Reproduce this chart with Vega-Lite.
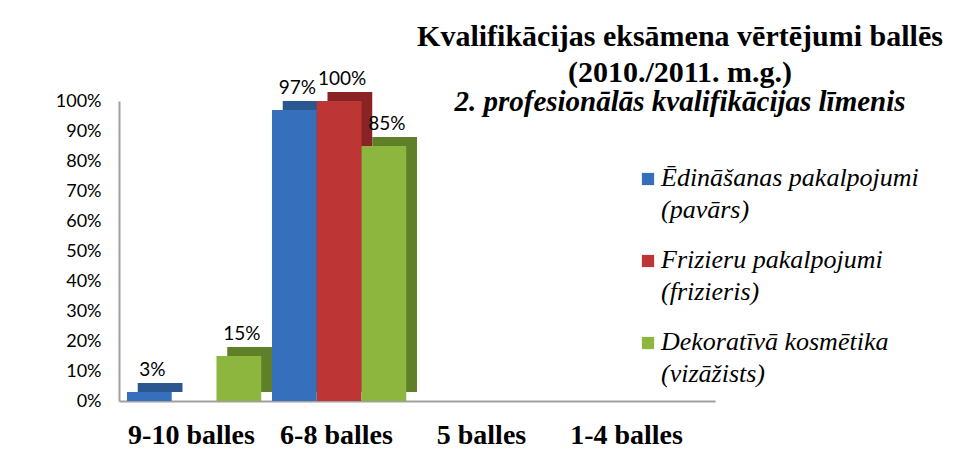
{
  "$schema": "https://vega.github.io/schema/vega-lite/v6.json",
  "autosize": {"type": "none"},
  "width": 596,
  "height": 300,
  "padding": {"left": 119, "top": 101, "right": 261, "bottom": 53},
  "background": "white",
  "config": {"view": {"stroke": null}},
  "title": {
    "text": ["Kvalifikācijas eksāmena vērtējumi ballēs", "(2010./2011. m.g.)"],
    "subtitle": "2. profesionālās kvalifikācijas līmenis",
    "anchor": "middle",
    "frame": "group",
    "dx": 263,
    "offset": -47,
    "font": "Liberation Serif",
    "fontSize": 30,
    "fontWeight": "bold",
    "lineHeight": 36,
    "color": "black",
    "subtitleFont": "Liberation Serif",
    "subtitleFontSize": 29,
    "subtitleFontWeight": "bold",
    "subtitleFontStyle": "italic",
    "subtitleColor": "black",
    "subtitlePadding": 0
  },
  "data": {
    "values": [
      {"kategorija": "9-10 balles", "grupa": "Ēdināšanas pakalpojumi (pavārs)", "vertiba": 0.03},
      {"kategorija": "9-10 balles", "grupa": "Dekoratīvā kosmētika (vizāžists)", "vertiba": 0.15},
      {"kategorija": "6-8 balles", "grupa": "Ēdināšanas pakalpojumi (pavārs)", "vertiba": 0.97},
      {"kategorija": "6-8 balles", "grupa": "Frizieru pakalpojumi (frizieris)", "vertiba": 1.0},
      {"kategorija": "6-8 balles", "grupa": "Dekoratīvā kosmētika (vizāžists)", "vertiba": 0.85}
    ]
  },
  "encoding": {
    "x": {
      "field": "kategorija",
      "type": "nominal",
      "scale": {"domain": ["9-10 balles", "6-8 balles", "5 balles", "1-4 balles"], "paddingInner": 0, "paddingOuter": 0.055},
      "sort": null,
      "axis": {
        "title": null,
        "labelAngle": 0,
        "labelFont": "Liberation Serif",
        "labelFontSize": 28,
        "labelFontWeight": "bold",
        "labelColor": "black",
        "labelPadding": 20,
        "labelOffset": -8,
        "ticks": false,
        "domainColor": "#a0a0a0",
        "domainWidth": 2
      }
    },
    "y": {
      "field": "vertiba",
      "type": "quantitative",
      "scale": {"domain": [0, 1], "nice": false},
      "axis": {
        "title": null,
        "values": [0, 0.1, 0.2, 0.3, 0.4, 0.5, 0.6, 0.7, 0.8, 0.9, 1.0],
        "format": ".0%",
        "grid": false,
        "ticks": false,
        "labelFont": "Lato",
        "labelFontSize": 18,
        "labelColor": "black",
        "labelPadding": 18,
        "domainColor": "#a0a0a0",
        "domainWidth": 2
      }
    }
  },
  "layer": [
    {
      "mark": {"type": "bar", "yOffset": -9},
      "encoding": {
        "xOffset": {
          "field": "grupa",
          "type": "nominal",
          "sort": null,
          "scale": {"type": "band", "domain": ["Ēdināšanas pakalpojumi (pavārs)", "Frizieru pakalpojumi (frizieris)", "Dekoratīvā kosmētika (vizāžists)"], "paddingInner": 0, "paddingOuter": 0.12, "align": 1}
        },
        "color": {
          "field": "grupa",
          "type": "nominal",
          "sort": null,
          "scale": {"domain": ["Ēdināšanas pakalpojumi (pavārs)", "Frizieru pakalpojumi (frizieris)", "Dekoratīvā kosmētika (vizāžists)"], "range": ["#2a5790", "#8a2424", "#5f7f28"]},
          "legend": null
        }
      }
    },
    {
      "mark": {"type": "bar"},
      "encoding": {
        "xOffset": {
          "field": "grupa",
          "type": "nominal",
          "sort": null,
          "scale": {"type": "band", "domain": ["Ēdināšanas pakalpojumi (pavārs)", "Frizieru pakalpojumi (frizieris)", "Dekoratīvā kosmētika (vizāžists)"], "paddingInner": 0, "paddingOuter": 0.12, "align": 0}
        },
        "color": {
          "field": "grupa",
          "type": "nominal",
          "sort": null,
          "scale": {"domain": ["Ēdināšanas pakalpojumi (pavārs)", "Frizieru pakalpojumi (frizieris)", "Dekoratīvā kosmētika (vizāžists)"], "range": ["#3670bd", "#bd3535", "#8cb63d"]},
          "legend": {
            "title": null,
            "orient": "none",
            "legendX": 516,
            "legendY": 65,
            "symbolType": "square",
            "symbolSize": 150,
            "symbolStrokeWidth": 0,
            "labelFont": "Liberation Serif",
            "labelFontSize": 26,
            "labelFontStyle": "italic",
            "labelColor": "black",
            "labelLimit": 400,
            "labelOffset": 0,
            "labelBaseline": "top",
            "rowPadding": 24,
            "labelExpr": "split(replace(datum.label, ' (', '|('), '|')",
            "encode": {
              "labels": {"update": {"lineHeight": {"value": 32}, "dy": {"value": -14}}}
            }
          }
        }
      }
    },
    {
      "mark": {"type": "text", "font": "Lato", "fontSize": 19, "color": "black", "dy": -22, "dx": 3},
      "encoding": {
        "xOffset": {
          "field": "grupa",
          "type": "nominal",
          "sort": null,
          "bandPosition": 0.5,
          "scale": {"type": "band", "domain": ["Ēdināšanas pakalpojumi (pavārs)", "Frizieru pakalpojumi (frizieris)", "Dekoratīvā kosmētika (vizāžists)"], "paddingInner": 0, "paddingOuter": 0.12, "align": 0}
        },
        "text": {"field": "vertiba", "type": "quantitative", "format": ".0%"}
      }
    }
  ],
  "resolve": {"scale": {"color": "independent", "xOffset": "independent"}}
}
